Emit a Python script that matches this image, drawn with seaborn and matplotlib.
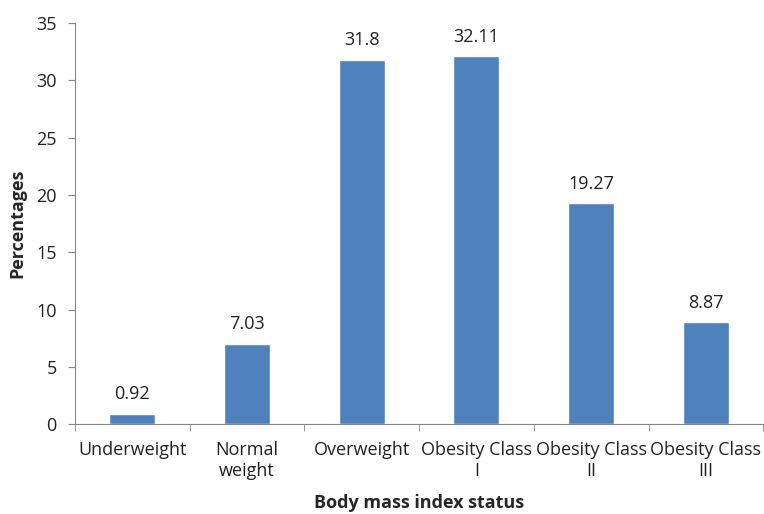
import pandas as pd
import numpy as np
import matplotlib
matplotlib.use("Agg")
import matplotlib.pyplot as plt
import seaborn as sns

sns.set_style("white")
plt.rcParams['font.family'] = ['Open Sans', 'DejaVu Sans']

# data
categories = ["Underweight", "Normal\nweight", "Overweight", "Obesity Class\nI",
              "Obesity Class\nII", "Obesity Class\nIII"]
percentages = [0.92, 7.03, 31.8, 32.11, 19.27, 8.87]
value_labels = ["0.92", "7.03", "31.8", "32.11", "19.27", "8.87"]

df = pd.DataFrame({"status": categories, "pct": percentages})

fig = plt.figure(figsize=(7.64, 5.14), dpi=100)
ax = fig.add_axes([0.098, 0.175, 0.901, 0.780])

sns.barplot(data=df, x="status", y="pct", color="#4F81BD", saturation=1,
            width=0.4, ax=ax)

for i, (v, lab) in enumerate(zip(percentages, value_labels)):
    ax.text(i, v + 0.9, lab, ha="center", va="bottom", fontsize=13, color="#222222")

ax.set_ylim(0, 35)
ax.set_xlim(-0.5, 5.5)
ax.set_yticks(np.arange(0, 36, 5))
ax.set_xticks(np.arange(-0.5, 6, 1), minor=True)

grey = "#868686"
for s in ["top", "right"]:
    ax.spines[s].set_visible(False)
ax.spines["left"].set_color(grey)
ax.spines["bottom"].set_color(grey)
ax.tick_params(axis="y", which="major", length=5, color=grey, labelsize=13,
               labelcolor="#222222", left=True, pad=8)
ax.tick_params(axis="x", which="major", length=0, labelsize=13,
               labelcolor="#222222", pad=12)
ax.tick_params(axis="x", which="minor", length=5, color=grey, bottom=True)
for t in ax.get_xticklabels():
    t.set_linespacing(1.25)

ax.set_xlabel("Body mass index status", fontsize=13, fontweight="bold", labelpad=10)
ax.set_ylabel("Percentages", fontsize=13, fontweight="bold", labelpad=7)

fig.savefig("out.png", dpi=100)
